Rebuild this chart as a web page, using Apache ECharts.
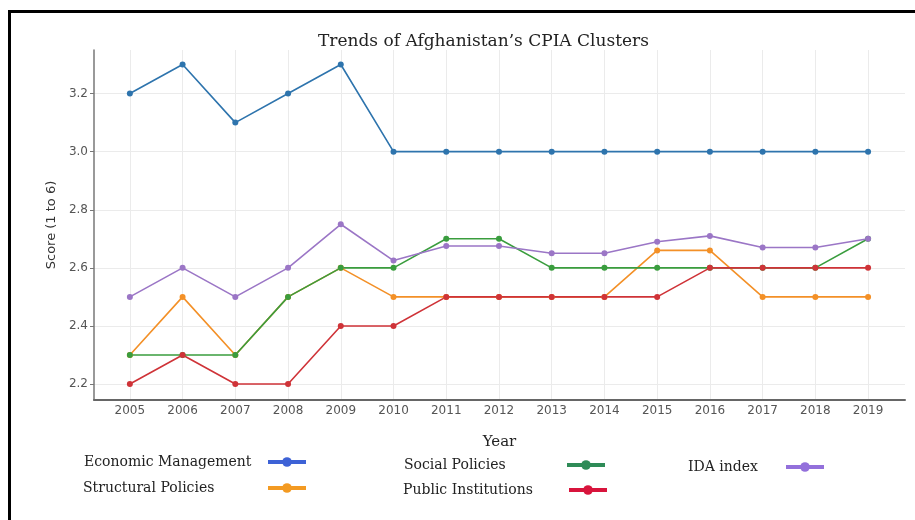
<!DOCTYPE html>
<html>
<head>
<meta charset="utf-8">
<script src="https://cdn.jsdelivr.net/npm/echarts@6/dist/echarts.min.js"></script>
<style>
    body { margin: 0; background: #fff; overflow: hidden; }
    #wrap { position: relative; width: 915px; height: 520px; }
    #main { position: absolute; left: 0; top: 0; width: 915px; height: 520px; }
    #frame { position: absolute; left: 8px; top: 10px; width: 940px; height: 540px;
             border-top: 3px solid #000; border-left: 3px solid #000; pointer-events: none; }
</style>
</head>
<body>
<div id="wrap">
    <div id="main"></div>
    <div id="frame"></div>
</div>
<script>
var years = [2005, 2006, 2007, 2008, 2009, 2010, 2011, 2012, 2013, 2014, 2015, 2016, 2017, 2018, 2019];
var economicMgmt  = [3.2, 3.3, 3.1, 3.2, 3.3, 3.0, 3.0, 3.0, 3.0, 3.0, 3.0, 3.0, 3.0, 3.0, 3.0];
var structural    = [2.3, 2.5, 2.3, 2.5, 2.6, 2.5, 2.5, 2.5, 2.5, 2.5, 2.66, 2.66, 2.5, 2.5, 2.5];
var social        = [2.3, 2.3, 2.3, 2.5, 2.6, 2.6, 2.7, 2.7, 2.6, 2.6, 2.6, 2.6, 2.6, 2.6, 2.7];
var publicInst    = [2.2, 2.3, 2.2, 2.2, 2.4, 2.4, 2.5, 2.5, 2.5, 2.5, 2.5, 2.6, 2.6, 2.6, 2.6];
var idaIndex      = [2.5, 2.6, 2.5, 2.6, 2.75, 2.625, 2.675, 2.675, 2.65, 2.65, 2.69, 2.71, 2.67, 2.67, 2.7];
var yTicks = [2.2, 2.4, 2.6, 2.8, 3.0, 3.2];

var names = ['Economic Management', 'Structural Policies', 'Social Policies', 'Public Institutions', 'IDA index'];
var lineColors = ['#2e74ad', '#f39027', '#3a9d3e', '#cf3338', '#9b76c6'];
var iconColors = ['#3d62d6', '#f39a22', '#2e8b57', '#d8143c', '#9370db'];
var allData = [economicMgmt, structural, social, publicInst, idaIndex];

var serif = '"DejaVu Serif", serif';
var sans = '"DejaVu Sans", sans-serif';

var pairs = function(vals){
    return vals.map(function(v, i){ return [years[i], v]; });
};

var series = [];
for (var i = 0; i < names.length; i++) {
    series.push({
        name: names[i],
        type: 'line',
        data: pairs(allData[i]),
        symbol: 'circle',
        symbolSize: 6,
        color: lineColors[i],
        lineStyle: { width: 1.6, color: lineColors[i] },
        itemStyle: { color: lineColors[i] }
    });
}

// legend boxes: [left, top, text width]
var legendPos = [[84, 455, 179], [83, 481, 180], [404, 458, 158], [403, 483, 161], [688, 460, 93]];
var legends = legendPos.map(function(p, i){
    return {
        data: [{ name: names[i], itemStyle: { color: iconColors[i] }, lineStyle: { color: iconColors[i], width: 4 } }],
        left: p[0],
        top: p[1],
        padding: 0,
        align: 'right',
        itemWidth: 38,
        itemHeight: 12,
        selectedMode: false,
        formatter: '{a|{name}}',
        textStyle: {
            rich: { a: { width: p[2], align: 'left', fontFamily: serif, fontSize: 14, color: '#222' } }
        }
    };
});

var myChart = echarts.init(document.getElementById('main'));
myChart.setOption({
    animation: false,
    title: {
        text: 'Trends of Afghanistan\u2019s CPIA Clusters',
        left: 313,
        top: 28,
        textStyle: { fontFamily: serif, fontSize: 17, fontWeight: 'normal', color: '#222' }
    },
    legend: legends,
    grid: { left: 94, right: 10, top: 50, bottom: 120 },
    xAxis: {
        type: 'value',
        min: 2004.32,
        max: 2019.7,
        name: 'Year',
        nameLocation: 'middle',
        nameGap: 35,
        nameTextStyle: { fontFamily: serif, fontSize: 15, color: '#222' },
        axisLine: { lineStyle: { color: '#666', width: 2 } },
        axisTick: { show: false, customValues: years },
        axisLabel: { customValues: years, margin: 5, fontFamily: sans, fontSize: 12, color: '#555',
            formatter: function(v){ return String(v); } },
        splitLine: { show: true, lineStyle: { color: '#ebebeb', width: 1 } }
    },
    yAxis: {
        type: 'value',
        min: 2.145,
        max: 3.35,
        name: 'Score (1 to 6)',
        nameLocation: 'middle',
        nameGap: 36,
        nameTextStyle: { fontFamily: sans, fontSize: 13, color: '#333' },
        axisLine: { show: true, lineStyle: { color: '#777', width: 1.5 } },
        axisTick: { show: true, length: 4, customValues: yTicks, lineStyle: { color: '#777' } },
        axisLabel: { customValues: yTicks, margin: 6, fontFamily: sans, fontSize: 12, color: '#555',
            formatter: function(v){ return v.toFixed(1); } },
        splitLine: { show: true, lineStyle: { color: '#ebebeb', width: 1 } }
    },
    series: series
});
</script>
</body>
</html>
